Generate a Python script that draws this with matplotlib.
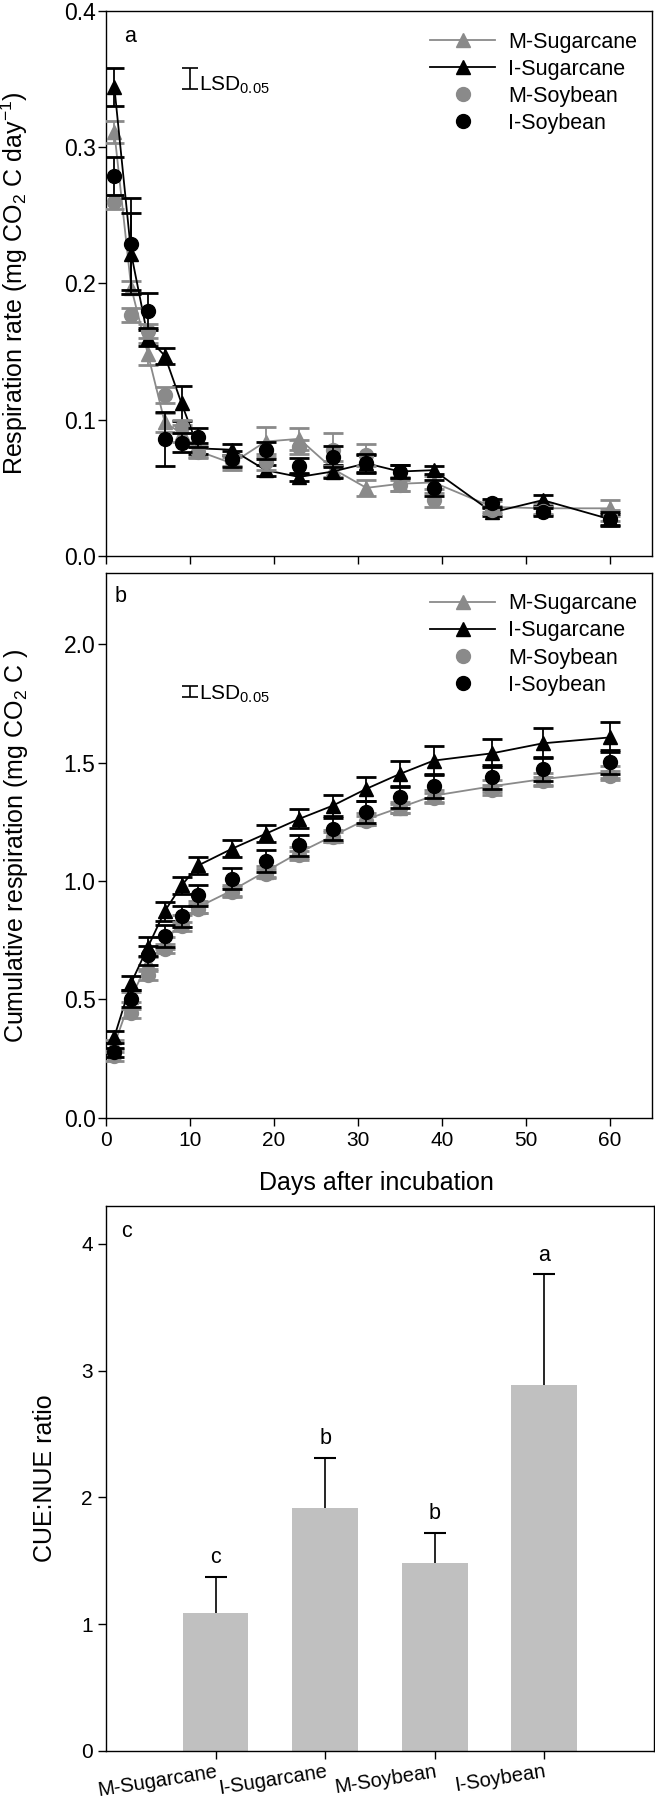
import matplotlib
matplotlib.use("Agg")
import matplotlib.pyplot as plt
from matplotlib.lines import Line2D
import numpy as np

plt.rcParams['font.family'] = ['Liberation Sans', 'DejaVu Sans']
plt.rcParams['mathtext.fontset'] = 'custom'
plt.rcParams['mathtext.rm'] = 'Liberation Sans'

# sampling days
days = [1, 3, 5, 7, 9, 11, 15, 19, 23, 27, 31, 35, 39, 46, 52, 60]

# panel a: respiration rate
m_sug = [0.311, 0.197, 0.148, 0.098, 0.090, 0.077, 0.068, 0.084, 0.086, 0.064, 0.050, 0.053, 0.054, 0.036, 0.035, 0.035]
m_sug_err = [0.008, 0.005, 0.008, 0.007, 0.006, 0.004, 0.005, 0.011, 0.008, 0.006, 0.006, 0.005, 0.005, 0.004, 0.004, 0.006]
i_sug = [0.344, 0.222, 0.160, 0.147, 0.112, 0.079, 0.078, 0.063, 0.058, 0.062, 0.068, 0.062, 0.063, 0.032, 0.041, 0.027]
i_sug_err = [0.014, 0.030, 0.006, 0.006, 0.013, 0.004, 0.004, 0.004, 0.003, 0.005, 0.006, 0.005, 0.003, 0.003, 0.004, 0.004]
m_soy = [0.260, 0.177, 0.165, 0.118, 0.095, 0.076, 0.070, 0.069, 0.080, 0.078, 0.074, 0.052, 0.041, 0.034, 0.033, 0.030]
m_soy_err = [0.005, 0.005, 0.005, 0.006, 0.005, 0.004, 0.004, 0.006, 0.005, 0.012, 0.008, 0.004, 0.005, 0.003, 0.003, 0.004]
i_soy = [0.279, 0.229, 0.180, 0.086, 0.083, 0.087, 0.071, 0.0775, 0.066, 0.073, 0.068, 0.062, 0.050, 0.039, 0.032, 0.027]
i_soy_err = [0.014, 0.034, 0.013, 0.020, 0.007, 0.007, 0.006, 0.006, 0.006, 0.008, 0.007, 0.005, 0.006, 0.003, 0.003, 0.005]

# panel b: cumulative respiration
m_sug_cum = [0.31, 0.51, 0.655, 0.74, 0.83, 0.89, 0.96, 1.04, 1.12, 1.19, 1.26, 1.31, 1.36, 1.40, 1.43, 1.46]
m_sug_cum_err = [0.02, 0.02, 0.025, 0.025, 0.025, 0.025, 0.025, 0.025, 0.025, 0.025, 0.025, 0.025, 0.025, 0.025, 0.025, 0.025]
i_sug_cum = [0.343, 0.570, 0.722, 0.873, 0.981, 1.066, 1.136, 1.199, 1.262, 1.318, 1.389, 1.452, 1.508, 1.539, 1.581, 1.606]
i_sug_cum_err = [0.025, 0.03, 0.04, 0.04, 0.035, 0.035, 0.035, 0.036, 0.04, 0.043, 0.05, 0.055, 0.06, 0.06, 0.063, 0.063]
m_soy_cum = [0.26, 0.441, 0.602, 0.715, 0.809, 0.883, 0.953, 1.031, 1.108, 1.185, 1.255, 1.306, 1.35, 1.385, 1.42, 1.445]
m_soy_cum_err = [0.02, 0.02, 0.02, 0.02, 0.02, 0.02, 0.02, 0.02, 0.02, 0.02, 0.02, 0.02, 0.02, 0.02, 0.02, 0.02]
i_soy_cum = [0.277, 0.504, 0.687, 0.768, 0.851, 0.939, 1.010, 1.084, 1.150, 1.220, 1.291, 1.354, 1.400, 1.438, 1.473, 1.501]
i_soy_cum_err = [0.02, 0.035, 0.04, 0.045, 0.045, 0.045, 0.045, 0.045, 0.045, 0.045, 0.045, 0.048, 0.05, 0.05, 0.05, 0.05]

# LSD bars (x, centre, half length)
lsd_a = (10, 0.3505, 0.0074)
lsd_b = (10, 1.80, 0.025)

# panel c: CUE:NUE ratio
treatments = ["M-Sugarcane", "I-Sugarcane", "M-Soybean", "I-Soybean"]
ratio = [1.09, 1.92, 1.48, 2.89]
ratio_err = [0.28, 0.39, 0.24, 0.87]
letters = ["c", "b", "b", "a"]

GRAY = "#8a8a8a"
FS_XTICK = 15
FS_YTICK = 16.5
FS_LAB = 18
FS_LEG = 15.5

fig = plt.figure(figsize=(6.55, 18.04), dpi=100)
ax_a = fig.add_axes([0.1618, 0.6918, 0.8336, 0.3021])
ax_b = fig.add_axes([0.1618, 0.3803, 0.8336, 0.3021])
ax_c = fig.add_axes([0.1618, 0.0294, 0.8366, 0.3021])

series_style = [
    ("M-Sugarcane", GRAY, "^", "-"),
    ("I-Sugarcane", "black", "^", "-"),
    ("M-Soybean", GRAY, "o", "none"),
    ("I-Soybean", "black", "o", "none"),
]


def draw_series(ax, ys, errs):
    for i, ((name, col, mk, ls), y, e) in enumerate(zip(series_style, ys, errs)):
        ax.errorbar(days, y, yerr=e, color=col, marker=mk, linestyle=ls,
                    markersize=10, linewidth=1.3, elinewidth=1.3,
                    capsize=7, capthick=2, zorder=3 + i)


def style_time_axis(ax):
    ax.set_xlim(0, 65)
    ax.set_xticks(range(0, 61, 10))
    ax.tick_params(direction="out", length=6, width=1, top=False, right=False)
    ax.tick_params(axis="x", labelsize=FS_XTICK)
    ax.tick_params(axis="y", labelsize=FS_YTICK, pad=1.5)
    for s in ax.spines.values():
        s.set_linewidth(1)


legend_handles = [Line2D([], [], color=c, marker=m, linestyle=ls, markersize=10, linewidth=1.3)
                  for (_, c, m, ls) in series_style]
legend_names = [s[0] for s in series_style]


def add_legend(ax):
    ax.legend(legend_handles, legend_names, loc="upper right", bbox_to_anchor=(1.0, 0.99),
              frameon=False, fontsize=FS_LEG, handlelength=3.0, handletextpad=0.6,
              labelspacing=0.28, borderaxespad=0.3)


# ---- panel a
draw_series(ax_a, [m_sug, i_sug, m_soy, i_soy], [m_sug_err, i_sug_err, m_soy_err, i_soy_err])
style_time_axis(ax_a)
ax_a.set_ylim(0, 0.4)
ax_a.set_yticks([0.0, 0.1, 0.2, 0.3, 0.4])
ax_a.set_xticklabels([])
ax_a.set_ylabel("Respiration rate (mg CO$_2$ C day$^{-1}$)", fontsize=FS_LAB)
ax_a.yaxis.set_label_coords(-0.139, 0.5)
ax_a.errorbar([lsd_a[0]], [lsd_a[1]], yerr=[lsd_a[2]], color="black", linewidth=1.2,
              capsize=6, capthick=1.2)
ax_a.text(lsd_a[0] + 1.1, lsd_a[1] - 0.005, "LSD$_{0.05}$", fontsize=15, va="center")
ax_a.text(0.044, 0.953, "a", transform=ax_a.transAxes, fontsize=FS_LEG, ha="center", va="center")
add_legend(ax_a)

# ---- panel b
draw_series(ax_b, [m_sug_cum, i_sug_cum, m_soy_cum, i_soy_cum],
            [m_sug_cum_err, i_sug_cum_err, m_soy_cum_err, i_soy_cum_err])
style_time_axis(ax_b)
ax_b.set_ylim(0, 2.3)
ax_b.set_yticks([0.0, 0.5, 1.0, 1.5, 2.0])
ax_b.set_ylabel("Cumulative respiration (mg CO$_2$ C )", fontsize=FS_LAB)
ax_b.yaxis.set_label_coords(-0.139, 0.5)
ax_b.set_xlabel("Days after incubation", fontsize=FS_LAB)
ax_b.xaxis.set_label_coords(0.496, -0.097)
ax_b.errorbar([lsd_b[0]], [lsd_b[1]], yerr=[lsd_b[2]], color="black", linewidth=1.2,
              capsize=6, capthick=1.2)
ax_b.text(lsd_b[0] + 1.1, lsd_b[1] - 0.01, "LSD$_{0.05}$", fontsize=15, va="center")
ax_b.text(0.026, 0.956, "b", transform=ax_b.transAxes, fontsize=FS_LEG, ha="center", va="center")
add_legend(ax_b)

# ---- panel c
xpos = np.arange(1, len(treatments) + 1)
ax_c.bar(xpos, ratio, width=0.6, color="#c0c0c0", zorder=2)
_, caps, _ = ax_c.errorbar(xpos, ratio, yerr=[np.zeros(len(ratio)), ratio_err], fmt="none",
                           ecolor="black", elinewidth=1.2, capsize=8, capthick=1.5, zorder=3)
caps[0].set_visible(False)  # error drawn upward only
for x, v, e, l in zip(xpos, ratio, ratio_err, letters):
    ax_c.text(x, v + e + 0.07, l, ha="center", va="bottom", fontsize=FS_LEG)
ax_c.set_xlim(0, 5)
ax_c.set_ylim(0, 4.3)
ax_c.set_yticks([0, 1, 2, 3, 4])
ax_c.set_xticks(xpos)
ax_c.set_xticklabels(treatments, rotation=9, ha="right", rotation_mode="anchor")
ax_c.tick_params(direction="out", length=6, width=1, top=False, right=False)
ax_c.tick_params(axis="x", labelsize=14.5, pad=2)
ax_c.tick_params(axis="y", labelsize=FS_XTICK)
ax_c.set_ylabel("CUE:NUE ratio", fontsize=FS_LAB)
ax_c.yaxis.set_label_coords(-0.089, 0.5)
ax_c.text(0.038, 0.953, "c", transform=ax_c.transAxes, fontsize=FS_LEG, ha="center", va="center")
for s in ax_c.spines.values():
    s.set_linewidth(1)

fig.savefig("out.png", dpi=100)
